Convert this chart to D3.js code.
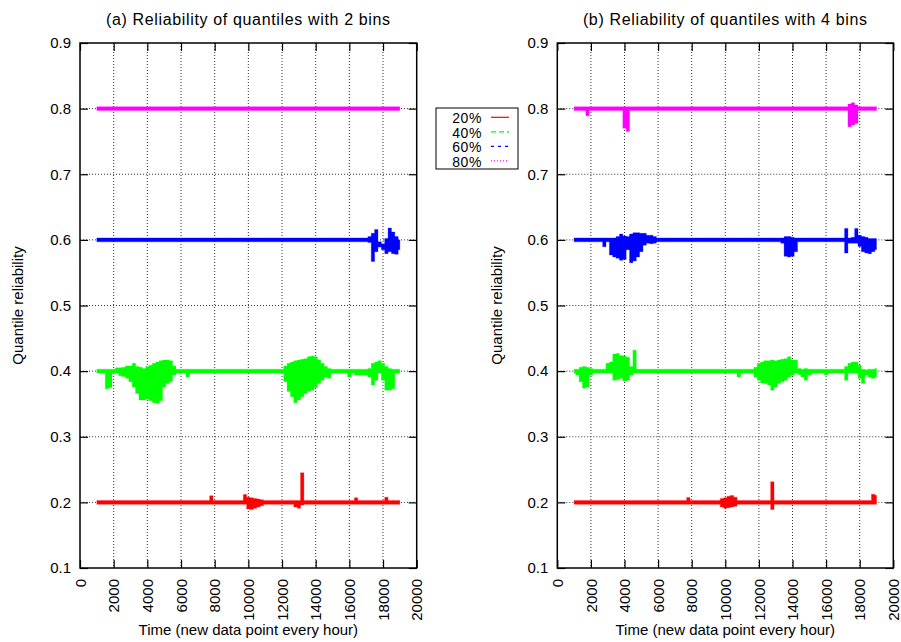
<!DOCTYPE html>
<html>
<head>
<meta charset="utf-8">
<script src="https://cdn.jsdelivr.net/npm/d3@7"></script>
<style>
  body { margin: 0; background: #fff; }
  svg { display: block; }
  text { font-family: "Liberation Sans", Arial, Helvetica, sans-serif; font-size: 15px; fill: #000; }
</style>
</head>
<body>
<svg id="chart" width="901" height="642"></svg>
<script>
// Sampling grid (hours) shared by every series: one envelope sample every 200 h
const hours = d3.range(1000, 19001, 200);

const quantileLabels = ["20%", "40%", "60%", "80%"];
const xTicks = [0, 2000, 4000, 6000, 8000, 10000, 12000, 14000, 16000, 18000, 20000];
const yTicks = [0.1, 0.2, 0.3, 0.4, 0.5, 0.6, 0.7, 0.8, 0.9];
const panelTitles = ["(a) Reliability of quantiles with 2 bins", "(b) Reliability of quantiles with 4 bins"];
const xTitle = "Time (new data point every hour)";
const yTitle = "Quantile reliability";

// ---- (a) 2 bins: lower / upper envelope of each quantile's reliability ----
const a20lo = [
  .197,.197,.197,.197,.197,.197,.197,.197,.197,.197,
  .197,.197,.197,.197,.197,.197,.197,.197,.197,.197,
  .197,.197,.197,.197,.197,.197,.197,.197,.197,.197,
  .197,.197,.197,.197,.197,.197,.197,.197,.197,.197,
  .197,.197,.197,.197,.197,.190,.189,.191,.193,.195,
  .197,.197,.197,.197,.197,.197,.197,.197,.197,.193,
  .191,.196,.197,.197,.197,.197,.197,.197,.197,.197,
  .197,.197,.197,.197,.197,.197,.197,.197,.197,.197,
  .197,.197,.197,.197,.197,.197,.197,.197,.197,.197,
  .197];
const a20hi = [
  .203,.203,.203,.203,.203,.203,.203,.203,.203,.203,
  .203,.203,.203,.203,.203,.203,.203,.203,.203,.203,
  .203,.203,.203,.203,.203,.203,.203,.203,.203,.203,
  .203,.203,.203,.203,.210,.203,.203,.203,.203,.203,
  .203,.203,.203,.203,.212,.208,.207,.206,.205,.204,
  .203,.203,.203,.203,.203,.203,.203,.203,.203,.203,
  .203,.245,.203,.203,.203,.203,.203,.203,.203,.203,
  .203,.203,.203,.203,.203,.203,.203,.207,.203,.203,
  .203,.203,.203,.203,.203,.203,.208,.203,.203,.203,
  .203];
const a40lo = [
  .397,.397,.397,.373,.375,.397,.397,.393,.392,.389,
  .384,.376,.366,.356,.356,.358,.355,.352,.351,.355,
  .376,.381,.384,.394,.397,.397,.397,.391,.397,.397,
  .397,.397,.397,.397,.397,.397,.397,.397,.397,.397,
  .397,.397,.397,.397,.397,.397,.397,.397,.397,.397,
  .397,.397,.397,.397,.397,.397,.384,.369,.361,.352,
  .356,.361,.366,.369,.371,.375,.381,.386,.391,.389,
  .397,.397,.397,.397,.397,.391,.397,.394,.394,.394,
  .394,.391,.379,.386,.397,.386,.371,.371,.373,.397,
  .397];
const a40hi = [
  .403,.403,.403,.403,.403,.403,.405,.405,.406,.408,
  .408,.412,.407,.406,.404,.407,.409,.412,.414,.416,
  .417,.417,.416,.408,.403,.403,.403,.403,.403,.403,
  .403,.403,.403,.403,.403,.403,.403,.403,.403,.403,
  .403,.403,.403,.403,.403,.403,.403,.403,.403,.403,
  .403,.403,.403,.403,.403,.403,.408,.412,.414,.416,
  .417,.418,.419,.422,.423,.422,.417,.412,.407,.404,
  .403,.403,.403,.403,.403,.403,.403,.403,.403,.403,
  .403,.404,.412,.414,.416,.412,.407,.404,.403,.403,
  .403];
const a60lo = [
  .597,.597,.597,.597,.597,.597,.597,.597,.597,.597,
  .597,.597,.597,.597,.597,.597,.597,.597,.597,.597,
  .597,.597,.597,.597,.597,.597,.597,.597,.597,.597,
  .597,.597,.597,.597,.597,.597,.597,.597,.597,.597,
  .597,.597,.597,.597,.597,.597,.597,.597,.597,.597,
  .597,.597,.597,.597,.597,.597,.597,.597,.597,.597,
  .597,.597,.597,.597,.597,.597,.597,.597,.597,.597,
  .597,.597,.597,.597,.597,.597,.597,.597,.597,.597,
  .597,.596,.567,.582,.589,.585,.579,.582,.579,.578,
  .585];
const a60hi = [
  .603,.603,.603,.603,.603,.603,.603,.603,.603,.603,
  .603,.603,.603,.603,.603,.603,.603,.603,.603,.603,
  .603,.603,.603,.603,.603,.603,.603,.603,.603,.603,
  .603,.603,.603,.603,.603,.603,.603,.603,.603,.603,
  .603,.603,.603,.603,.603,.603,.603,.603,.603,.603,
  .603,.603,.603,.603,.603,.603,.603,.603,.603,.603,
  .603,.603,.603,.603,.603,.603,.603,.603,.603,.603,
  .603,.603,.603,.603,.603,.603,.603,.603,.603,.603,
  .603,.605,.610,.616,.597,.594,.602,.618,.612,.605,
  .600];
const a80lo = [
  .797,.797,.797,.797,.797,.797,.797,.797,.797,.797,
  .797,.797,.797,.797,.797,.797,.797,.797,.797,.797,
  .797,.797,.797,.797,.797,.797,.797,.797,.797,.797,
  .797,.797,.797,.797,.797,.797,.797,.797,.797,.797,
  .797,.797,.797,.797,.797,.797,.797,.797,.797,.797,
  .797,.797,.797,.797,.797,.797,.797,.797,.797,.797,
  .797,.797,.797,.797,.797,.797,.797,.797,.797,.797,
  .797,.797,.797,.797,.797,.797,.797,.797,.797,.797,
  .797,.797,.797,.797,.797,.797,.797,.797,.797,.797,
  .797];
const a80hi = [
  .803,.803,.803,.803,.803,.803,.803,.803,.803,.803,
  .803,.803,.803,.803,.803,.803,.803,.803,.803,.803,
  .803,.803,.803,.803,.803,.803,.803,.803,.803,.803,
  .803,.803,.803,.803,.803,.803,.803,.803,.803,.803,
  .803,.803,.803,.803,.803,.803,.803,.803,.803,.803,
  .803,.803,.803,.803,.803,.803,.803,.803,.803,.803,
  .803,.803,.803,.803,.803,.803,.803,.803,.803,.803,
  .803,.803,.803,.803,.803,.803,.803,.803,.803,.803,
  .803,.803,.803,.803,.803,.803,.803,.803,.803,.803,
  .803];

// ---- (b) 4 bins ----
const b20lo = [
  .197,.197,.197,.197,.197,.197,.197,.197,.197,.197,
  .197,.197,.197,.197,.197,.197,.197,.197,.197,.197,
  .197,.197,.197,.197,.197,.197,.197,.197,.197,.197,
  .197,.197,.197,.197,.197,.197,.197,.197,.197,.197,
  .197,.197,.197,.197,.193,.191,.192,.193,.194,.197,
  .197,.197,.197,.197,.197,.197,.197,.197,.197,.189,
  .197,.197,.197,.197,.197,.197,.197,.197,.197,.197,
  .197,.197,.197,.197,.197,.197,.197,.197,.197,.197,
  .197,.197,.197,.197,.197,.197,.197,.197,.197,.197,
  .197];
const b20hi = [
  .203,.203,.203,.203,.203,.203,.203,.203,.203,.203,
  .203,.203,.203,.203,.203,.203,.203,.203,.203,.203,
  .203,.203,.203,.203,.203,.203,.203,.203,.203,.203,
  .203,.203,.203,.203,.2075,.203,.203,.203,.203,.203,
  .203,.203,.203,.203,.206,.207,.2095,.2105,.208,.203,
  .203,.203,.203,.203,.203,.203,.203,.203,.203,.2313,
  .203,.203,.203,.203,.203,.203,.203,.203,.203,.203,
  .203,.203,.203,.203,.203,.203,.203,.203,.203,.203,
  .203,.203,.203,.203,.203,.203,.203,.203,.203,.2125,
  .211];
const b40lo = [
  .397,.394,.384,.374,.376,.394,.397,.397,.397,.397,
  .397,.397,.386,.387,.389,.385,.386,.394,.397,.397,
  .397,.397,.397,.397,.397,.397,.397,.397,.397,.397,
  .397,.397,.397,.397,.397,.397,.397,.397,.397,.397,
  .397,.397,.397,.397,.397,.397,.397,.397,.397,.391,
  .397,.397,.397,.397,.391,.386,.382,.381,.379,.371,
  .376,.381,.384,.386,.391,.394,.397,.395,.391,.386,
  .394,.397,.397,.397,.397,.394,.397,.397,.397,.397,
  .397,.386,.397,.397,.397,.389,.381,.394,.391,.389,
  .391];
const b40hi = [
  .403,.403,.406,.407,.406,.404,.403,.403,.403,.403,
  .412,.414,.426,.427,.424,.423,.421,.407,.432,.403,
  .403,.403,.403,.403,.403,.403,.403,.403,.403,.403,
  .403,.403,.403,.403,.403,.403,.403,.403,.403,.403,
  .403,.403,.403,.403,.403,.403,.403,.403,.403,.403,
  .403,.403,.403,.403,.406,.412,.414,.416,.416,.417,
  .416,.417,.418,.419,.422,.417,.417,.404,.403,.404,
  .403,.403,.403,.403,.403,.403,.403,.403,.403,.403,
  .403,.407,.412,.414,.414,.409,.403,.402,.403,.403,
  .404];
const b60lo = [
  .597,.597,.597,.597,.597,.597,.597,.597,.597,.5895,
  .597,.577,.574,.572,.569,.570,.585,.565,.568,.574,
  .582,.592,.595,.594,.595,.597,.597,.597,.597,.597,
  .597,.597,.597,.597,.597,.597,.597,.597,.597,.597,
  .597,.597,.597,.597,.597,.597,.597,.597,.597,.597,
  .597,.597,.597,.597,.597,.597,.597,.597,.597,.597,
  .597,.597,.595,.575,.574,.575,.582,.597,.597,.597,
  .597,.597,.597,.597,.597,.597,.597,.597,.597,.597,
  .597,.580,.595,.595,.595,.590,.582,.580,.579,.582,
  .585];
const b60hi = [
  .603,.603,.603,.603,.603,.603,.603,.603,.603,.603,
  .603,.603,.603,.605,.609,.606,.605,.609,.611,.611,
  .610,.610,.607,.607,.605,.603,.603,.603,.603,.603,
  .603,.603,.603,.603,.603,.603,.603,.603,.603,.603,
  .603,.603,.603,.603,.603,.603,.603,.603,.603,.603,
  .603,.603,.603,.603,.603,.603,.603,.603,.603,.603,
  .603,.603,.603,.605,.605,.604,.603,.603,.603,.603,
  .603,.603,.603,.603,.603,.603,.603,.603,.603,.603,
  .603,.6175,.603,.604,.6175,.607,.605,.604,.602,.602,
  .602];
const b80lo = [
  .797,.797,.797,.797,.789,.797,.797,.797,.797,.797,
  .797,.797,.797,.797,.797,.770,.765,.797,.797,.797,
  .797,.797,.797,.797,.797,.797,.797,.797,.797,.797,
  .797,.797,.797,.797,.797,.797,.797,.797,.797,.797,
  .797,.797,.797,.797,.797,.797,.797,.797,.797,.797,
  .797,.797,.797,.797,.797,.797,.797,.797,.797,.797,
  .797,.797,.797,.797,.797,.797,.797,.797,.797,.797,
  .797,.797,.797,.797,.797,.797,.797,.797,.797,.797,
  .797,.797,.7725,.775,.7775,.797,.797,.797,.797,.797,
  .797];
const b80hi = [
  .803,.803,.803,.803,.803,.803,.803,.803,.803,.803,
  .803,.803,.803,.803,.803,.803,.803,.803,.803,.803,
  .803,.803,.803,.803,.803,.803,.803,.803,.803,.803,
  .803,.803,.803,.803,.803,.803,.803,.803,.803,.803,
  .803,.803,.803,.803,.803,.803,.803,.803,.803,.803,
  .803,.803,.803,.803,.803,.803,.803,.803,.803,.803,
  .803,.803,.803,.803,.803,.803,.803,.803,.803,.803,
  .803,.803,.803,.803,.803,.803,.803,.803,.803,.803,
  .803,.803,.807,.809,.8055,.803,.803,.803,.803,.803,
  .803];

const colors = ["#ff0000", "#00ff00", "#0000ff", "#ff00ff"];
const dashes = [null, "5,3", "3,4", "1,2"];

const panels = [
  { x0: 80, x1: 416.7, title: panelTitles[0], yLabelX: 23,
    series: [[a20lo, a20hi], [a40lo, a40hi], [a60lo, a60hi], [a80lo, a80hi]] },
  { x0: 557.3, x1: 893.3, title: panelTitles[1], yLabelX: 502,
    series: [[b20lo, b20hi], [b40lo, b40hi], [b60lo, b60hi], [b80lo, b80hi]] }
];

panels.forEach(p => p.series.forEach(([lo, hi]) => {
  if (lo.length !== hours.length || hi.length !== hours.length) {
    throw new Error("series length " + lo.length + "/" + hi.length + " != " + hours.length);
  }
}));

const svg = d3.select("#chart");
const yTop = 43, yBottom = 568;

panels.forEach(p => {
  const x = d3.scaleLinear().domain([0, 20000]).range([p.x0, p.x1]);
  const y = d3.scaleLinear().domain([0.1, 0.9]).range([yBottom, yTop]);
  const g = svg.append("g");

  // dotted grid
  const grid = g.append("g").attr("stroke", "#000").attr("stroke-width", 1)
    .attr("stroke-dasharray", "1,2").attr("opacity", 0.8);
  grid.selectAll("line.gx").data(xTicks.slice(1, -1)).join("line").attr("class", "gx")
    .attr("x1", d => x(d)).attr("x2", d => x(d)).attr("y1", yTop).attr("y2", yBottom);
  grid.selectAll("line.gy").data(yTicks.slice(1, -1)).join("line").attr("class", "gy")
    .attr("x1", p.x0).attr("x2", p.x1).attr("y1", d => y(d)).attr("y2", d => y(d));

  // reliability bands
  p.series.forEach(([lo, hi], k) => {
    const band = d3.area()
      .x((d, i) => x(hours[i]))
      .y0((d, i) => y(lo[i]))
      .y1((d, i) => y(hi[i]))
      .curve(d3.curveStep);
    g.append("path").datum(lo).attr("d", band)
      .attr("fill", colors[k]).attr("stroke", colors[k])
      .attr("stroke-width", 0.6).attr("stroke-opacity", 0.5);
  });

  // axes with inward ticks on all four sides
  const bottom = g.append("g").attr("transform", `translate(0,${yBottom})`)
    .call(d3.axisBottom(x).tickValues(xTicks).tickSize(-8).tickFormat(d3.format("d")));
  bottom.selectAll("text")
    .attr("transform", "rotate(-90)")
    .attr("x", -11).attr("y", 0).attr("dy", "0.35em")
    .attr("text-anchor", "end");
  g.append("g").attr("transform", `translate(0,${yTop})`)
    .call(d3.axisTop(x).tickValues(xTicks).tickSize(-8).tickFormat(""));
  g.append("g").attr("transform", `translate(${p.x0},0)`)
    .call(d3.axisLeft(y).tickValues(yTicks).tickSize(-8).tickPadding(9).tickFormat(d3.format(".1f")));
  g.append("g").attr("transform", `translate(${p.x1},0)`)
    .call(d3.axisRight(y).tickValues(yTicks).tickSize(-8).tickFormat(""));
  g.selectAll(".domain").remove();
  g.selectAll(".tick line").attr("stroke", "#000").attr("stroke-width", 1.2);
  g.selectAll(".tick text").style("font-size", "15px")
    .style("font-family", "'Liberation Sans', Arial, sans-serif").attr("fill", "#000");

  // frame
  g.append("rect").attr("x", p.x0).attr("y", yTop)
    .attr("width", p.x1 - p.x0).attr("height", yBottom - yTop)
    .attr("fill", "none").attr("stroke", "#000").attr("stroke-width", 1.5);

  // titles
  const cx = (p.x0 + p.x1) / 2;
  g.append("text").attr("x", cx).attr("y", 25).attr("text-anchor", "middle")
    .style("font-size", "16px").style("letter-spacing", "0.65px").text(p.title);
  g.append("text").attr("x", cx).attr("y", 635).attr("text-anchor", "middle").text(xTitle);
  g.append("text").attr("transform", `translate(${p.yLabelX},${(yTop + yBottom) / 2}) rotate(-90)`)
    .attr("text-anchor", "middle").text(yTitle);
});

// key
const legend = svg.append("g");
legend.append("rect").attr("x", 436).attr("y", 108).attr("width", 82).attr("height", 61)
  .attr("fill", "#fff").attr("stroke", "#000").attr("stroke-width", 1);
quantileLabels.forEach((lab, k) => {
  const cy = 118.3 + k * 14.5;
  legend.append("text").attr("x", 482).attr("y", cy).attr("dy", "0.35em")
    .attr("text-anchor", "end").style("font-size", "14px").style("letter-spacing", "0.6px")
    .text(lab);
  legend.append("line").attr("x1", 491).attr("x2", 509).attr("y1", cy - 1).attr("y2", cy - 1)
    .attr("stroke", colors[k]).attr("stroke-width", 1.2)
    .attr("stroke-dasharray", dashes[k]);
});
</script>
</body>
</html>
